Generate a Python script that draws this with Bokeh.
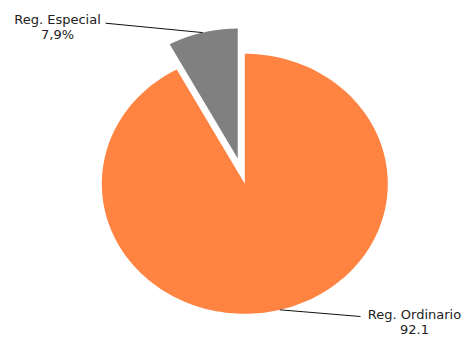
import numpy as np
from bokeh.plotting import figure
from bokeh.models import Range1d
from bokeh.core.properties import value
from bokeh.embed import file_html
from bokeh.resources import INLINE

# data
categories = ["Reg. Ordinario", "Reg. Especial"]
shares = [92.1, 7.9]
value_labels = ["92.1", "7,9%"]
colors = ["#FF8442", "#808080"]
explode = [0.0, 0.2]

# layout (pixel coordinates, y downward)
W, H = 467, 338
X0, Y0 = 0, 0
cx, cy = 244.3, 183.3
rx, ry = 143.0, 130.0

p = figure(width=W, height=H, output_backend="svg", toolbar_location=None,
           x_range=Range1d(X0, X0 + W), y_range=Range1d(Y0 + H, Y0),
           min_border=0)
p.axis.visible = False
p.grid.visible = False
p.outline_line_color = None
p.background_fill_color = "white"
p.border_fill_color = "white"

total = sum(shares)
start = 0.0
xs, ys, mids = [], [], []
for s, e in zip(shares, explode):
    a0 = start / total * 2 * np.pi
    a1 = (start + s) / total * 2 * np.pi
    mid = (a0 + a1) / 2
    ox = cx + e * rx * np.sin(mid)
    oy = cy - e * ry * np.cos(mid)
    t = np.linspace(a0, a1, 200)
    xs.append([ox] + list(ox + rx * np.sin(t)) + [ox])
    ys.append([oy] + list(oy - ry * np.cos(t)) + [oy])
    mids.append((ox + rx * np.sin(mid), oy - ry * np.cos(mid)))
    start += s

p.patches(xs, ys, fill_color=colors, line_color=None)

# label anchors (layout)
label_anchor = [(360, 316), (105, 22.7)]
label_center = [(414, 314), (57, 19)]
line_gap = 15
for i in range(len(categories)):
    sx, sy = mids[i]
    ex, ey = label_anchor[i]
    p.line([sx, ex], [sy, ey], line_color="#111111", line_width=1)
    lx, ly = label_center[i]
    p.text([lx], [ly], text=[categories[i]], text_align="center", text_baseline="middle",
           text_font=value("DejaVu Sans"), text_font_size="13px", text_color="#222222")
    p.text([lx], [ly + line_gap], text=[value_labels[i]], text_align="center", text_baseline="middle",
           text_font=value("DejaVu Sans"), text_font_size="13px", text_color="#222222")

open("out.html", "w").write(file_html(p, INLINE))
